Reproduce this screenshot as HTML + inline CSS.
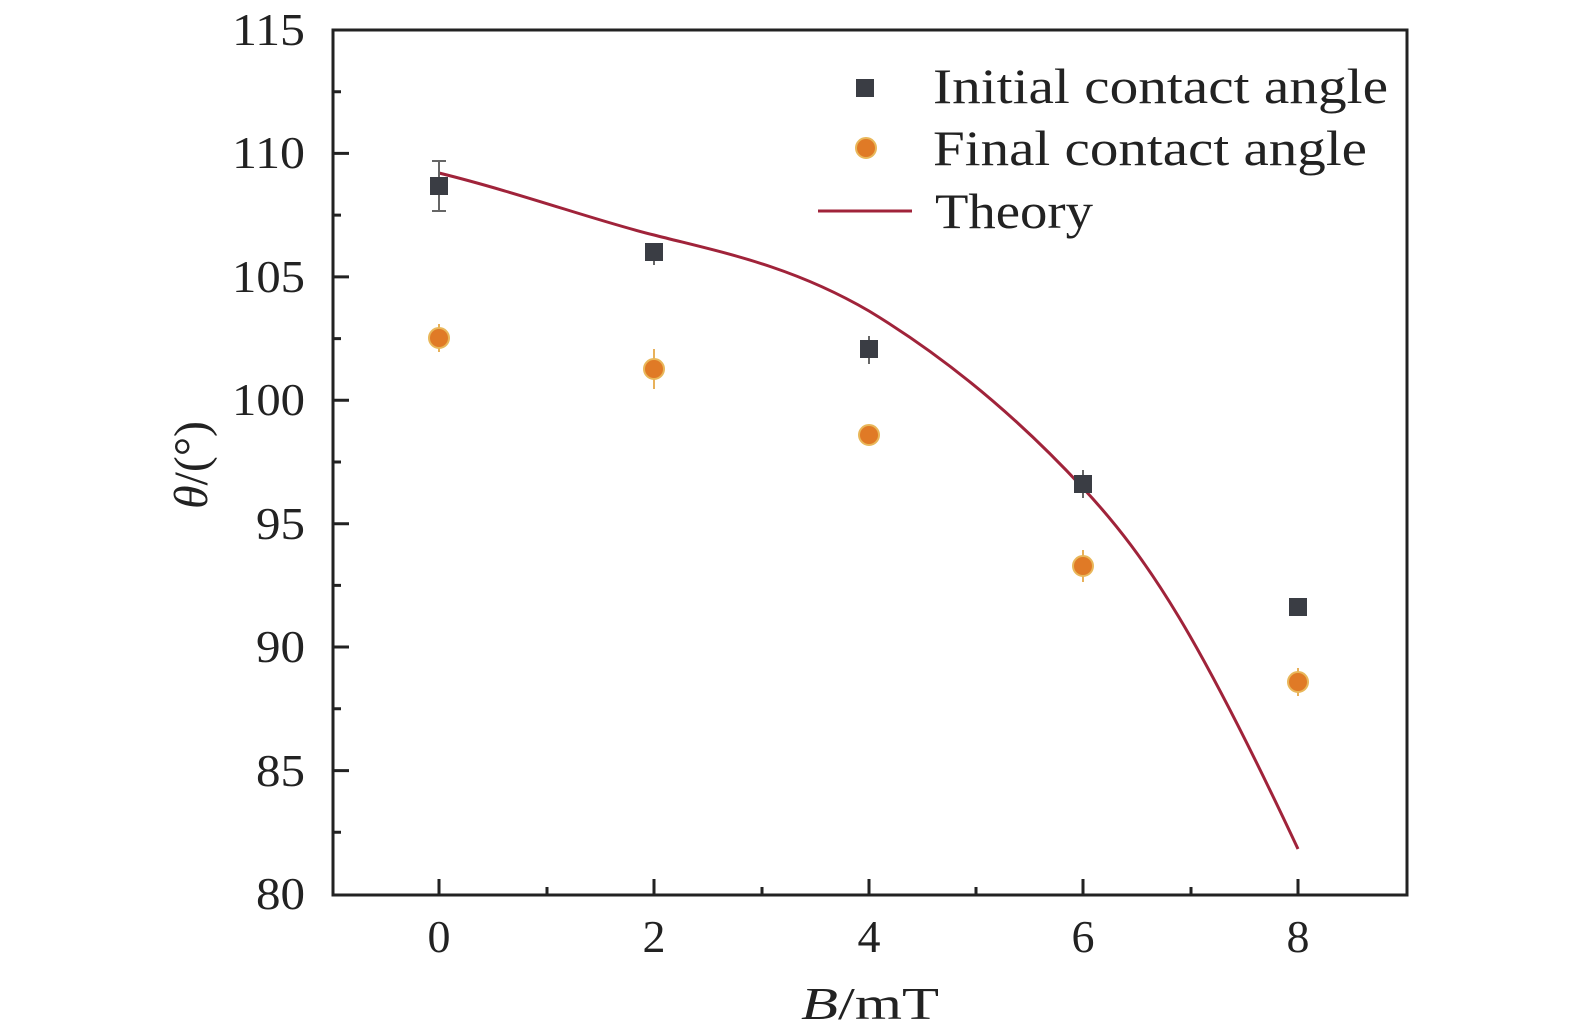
<!DOCTYPE html>
<html><head><style>body{margin:0;background:#fff}svg{display:block}</style></head><body>
<svg width="1575" height="1035" viewBox="0 0 1575 1035" xmlns="http://www.w3.org/2000/svg" font-family="Liberation Serif, serif" fill="#222">
<g stroke="#222" stroke-width="3">
<rect x="333" y="30" width="1074" height="865" fill="none"/>
<path d="M333 153.4h16M333 276.9h16M333 400.3h16M333 523.7h16M333 647h16M333 770.6h16"/>
<path d="M333 91.7h8M333 215.1h8M333 338.6h8M333 462h8M333 585.4h8M333 708.8h8M333 832.3h8"/>
<path d="M439 895v-16M654 895v-16M869 895v-16M1083 895v-16M1298 895v-16"/>
<path d="M547 895v-8M762 895v-8M976 895v-8M1191 895v-8"/>
</g>
<g font-size="46" text-anchor="end">
<text x="305" y="45" textLength="73" lengthAdjust="spacingAndGlyphs">115</text><text x="305" y="168" textLength="73" lengthAdjust="spacingAndGlyphs">110</text><text x="305" y="292" textLength="73" lengthAdjust="spacingAndGlyphs">105</text><text x="305" y="415" textLength="73" lengthAdjust="spacingAndGlyphs">100</text><text x="305" y="539" textLength="49" lengthAdjust="spacingAndGlyphs">95</text><text x="305" y="662" textLength="49" lengthAdjust="spacingAndGlyphs">90</text><text x="305" y="786" textLength="49" lengthAdjust="spacingAndGlyphs">85</text><text x="305" y="909" textLength="49" lengthAdjust="spacingAndGlyphs">80</text>
</g>
<g font-size="46" text-anchor="middle">
<text x="439" y="952">0</text><text x="654" y="952">2</text><text x="869" y="952">4</text><text x="1083" y="952">6</text><text x="1298" y="952">8</text>
<text x="870" y="1019" textLength="138" lengthAdjust="spacingAndGlyphs"><tspan font-style="italic">B</tspan>/mT</text>
</g>
<text transform="translate(207,465) rotate(-90)" font-size="48" text-anchor="middle"><tspan font-style="italic">θ</tspan>/(°)</text>
<path d="M439 173 C520 193 600 222 654 235 C720 252 790 265 869 311 C950 360 1020 420 1083 488 C1150 560 1200 640 1298 849" fill="none" stroke="#a0233a" stroke-width="3"/>
<g stroke="#666" stroke-width="2">
<path d="M439 161v50M432 161h14M432 211h14M654 243v22M869 336v28M1083 470v28"/>
</g>
<g fill="#3a3d44">
<rect x="430" y="177" width="18" height="18"/><rect x="645" y="243" width="18" height="18"/><rect x="860" y="340" width="18" height="18"/><rect x="1074" y="475" width="18" height="18"/><rect x="1289" y="598" width="18" height="18"/>
</g>
<g stroke="#e8b15a" stroke-width="2">
<path d="M439 324v28M654 349v40M1083 550v32M1298 668v28"/>
</g>
<g fill="#e07a26" stroke="#e9b75a" stroke-width="2">
<circle cx="439" cy="338" r="10"/><circle cx="654" cy="369" r="10"/><circle cx="869" cy="435" r="10"/><circle cx="1083" cy="566" r="10"/><circle cx="1298" cy="682" r="10"/>
<circle cx="866" cy="148" r="10"/>
</g>
<rect x="856" y="79" width="18" height="18" fill="#3a3d44"/>
<line x1="818" y1="211" x2="912" y2="211" stroke="#a0233a" stroke-width="3"/>
<g font-size="50">
<text x="933" y="103" textLength="455" lengthAdjust="spacingAndGlyphs">Initial contact angle</text>
<text x="933" y="165" textLength="434" lengthAdjust="spacingAndGlyphs">Final contact angle</text>
<text x="935" y="228" textLength="158" lengthAdjust="spacingAndGlyphs">Theory</text>
</g>
</svg>
</body></html>
